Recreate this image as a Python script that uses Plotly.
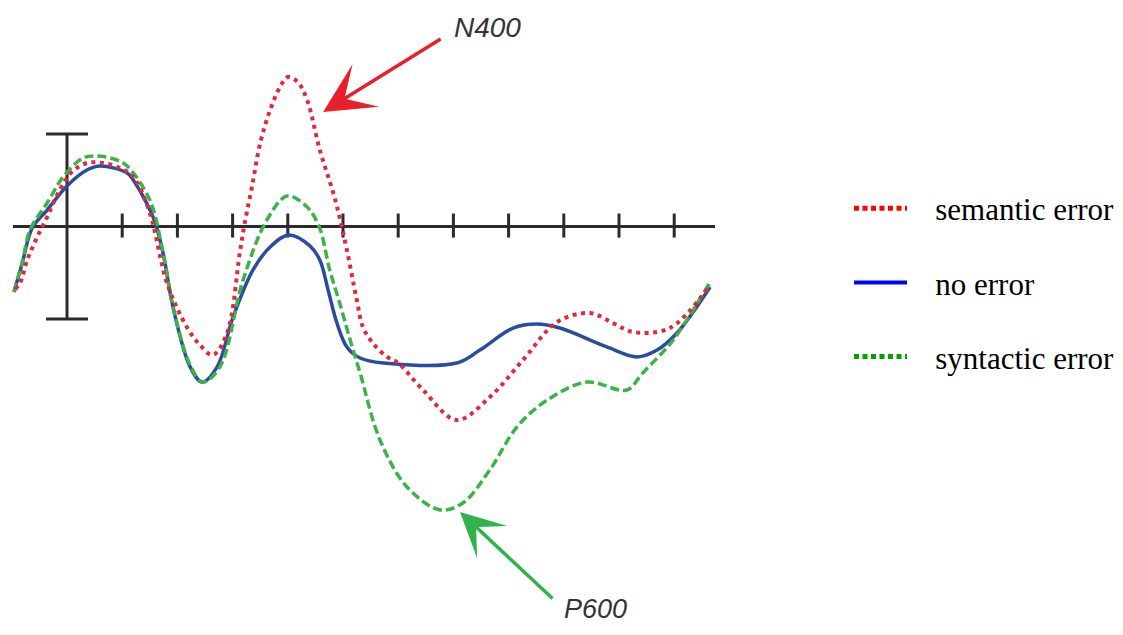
import plotly.graph_objects as go

# ---- data (time in ms, amplitude in microvolts; negative plotted upward) ----
no_error_t = [-96, -81, -63, -36, 0, 36, 60, 109, 120, 156, 174, 192, 223, 245, 272, 301, 337, 368,
              402, 440, 458, 473, 489, 507, 531, 573, 706, 748, 808, 851, 893, 978, 1033, 1069, 1105, 1165]
no_error_v = [3.54, 1.97, 0.08, -0.89, -2.19, -3.05, -3.27, -2.89, -2.51, -0.51, 1.43, 4.35, 7.59, 8.41,
              7.59, 4.89, 2.35, 1.11, 0.46, 1.05, 1.81, 3.43, 5.22, 6.51, 7.11, 7.38, 7.38, 6.68, 5.49,
              5.27, 5.49, 6.51, 7.05, 6.68, 5.76, 3.27]

semantic_t = [-94, -85, -72, -54, -36, -16, 9, 36, 65, 96, 120, 150, 181, 217, 241, 264, 290, 313, 322,
              335, 350, 368, 386, 400, 418, 435, 458, 486, 507, 525, 536, 554, 580, 600, 645, 706, 766,
              826, 888, 947, 989, 1025, 1092, 1165]
semantic_v = [3.38, 3.05, 1.81, 0.57, -0.51, -1.81, -2.95, -3.43, -3.43, -3.16, -2.68, -0.73, 3.05, 5.43,
              6.41, 6.95, 5.76, 1.43, -0.19, -2.14, -4.51, -6.3, -7.54, -8.08, -7.81, -6.84, -4.14, -1.43,
              1.27, 3.97, 5.43, 6.3, 7.05, 7.38, 8.84, 10.46, 9.22, 7.22, 5.16, 4.68, 5.22, 5.7, 5.49, 3.16]

syntactic_t = [-96, -81, -67, -36, -7, 29, 54, 91, 109, 150, 174, 192, 223, 246, 277, 319, 362, 399, 435,
               457, 476, 495, 513, 531, 567, 616, 676, 717, 766, 815, 870, 942, 1014, 1043, 1098, 1165]
syntactic_v = [3.54, 1.92, 0.19, -1.27, -2.68, -3.7, -3.81, -3.59, -3.27, -1.43, 1.43, 4.35, 7.49, 8.41,
               7.59, 2.89, -0.35, -1.65, -1.05, 0.03, 2.35, 4.24, 6.14, 7.92, 11.54, 14.08, 15.32, 14.95,
               13.16, 10.84, 9.38, 8.41, 8.84, 7.92, 6.14, 3.0]

tick_times = [100, 200, 300, 400, 500, 600, 700, 800, 900, 1000, 1100]
axis_start, axis_end = -98, 1174
tick_half_up, tick_half_down = -0.7, 0.6
calib_uv = 5
calib_cap = 38

legend_names = ["semantic error", "no error", "syntactic error"]

AX = "#2b2b2b"
FIG_W, FIG_H = 1106, 619          # keeps the page (with its 8px body margin) inside the window
PX_PER_MS, PX_PER_UV = 0.552, 18.5
T0, V0 = -106.88, -11.81

fig = go.Figure()

# baseline axis
fig.add_trace(go.Scatter(x=[axis_start, axis_end], y=[0, 0], mode="lines",
                         line=dict(color=AX, width=3), showlegend=False, hoverinfo="skip"))
# ticks
tx, ty = [], []
for t in tick_times:
    tx += [t, t, None]
    ty += [tick_half_up, tick_half_down, None]
fig.add_trace(go.Scatter(x=tx, y=ty, mode="lines", line=dict(color=AX, width=3),
                         showlegend=False, hoverinfo="skip"))
# calibration bar
fig.add_trace(go.Scatter(x=[0, 0, None, -calib_cap, calib_cap, None, -calib_cap, calib_cap],
                         y=[-calib_uv, calib_uv, None, -calib_uv, -calib_uv, None, calib_uv, calib_uv],
                         mode="lines", line=dict(color=AX, width=3), showlegend=False, hoverinfo="skip"))

# curves
fig.add_trace(go.Scatter(x=no_error_t, y=no_error_v, mode="lines",
                         line=dict(color="#2d4b9e", width=3.5, shape="spline", smoothing=1.0),
                         showlegend=False))
fig.add_trace(go.Scatter(x=syntactic_t, y=syntactic_v, mode="lines",
                         line=dict(color="#3cb24a", width=3.5, dash="9px,4px", shape="spline", smoothing=1.0),
                         showlegend=False))
fig.add_trace(go.Scatter(x=semantic_t, y=semantic_v, mode="lines",
                         line=dict(color="#e2283c", width=4, dash="4px,4.5px", shape="spline", smoothing=1.0),
                         showlegend=False))

# legend entries
leg_styles = [dict(color="#ff0000", width=5, dash="5px,3.5px"),
              dict(color="#0000ff", width=4),
              dict(color="#00a000", width=5, dash="5px,3.5px")]
pad = "\u00a0\u00a0\u00a0"
for i, (name, st) in enumerate(zip(legend_names, leg_styles)):
    fig.add_trace(go.Scatter(x=[None], y=[None], mode="lines", name=pad + name, line=st,
                             legendgroup=f"g{i}"))

# arrows and labels
fig.add_annotation(x=464, y=-6.19, ax=119, ay=-74, text="", showarrow=True,
                   arrowhead=3, arrowsize=2.4, arrowwidth=3.5, arrowcolor="#e8202a")
fig.add_annotation(x=712, y=15.43, ax=94, ay=88, text="", showarrow=True,
                   arrowhead=3, arrowsize=2.1, arrowwidth=3.5, arrowcolor="#2fb34a")
fig.add_annotation(x=761, y=-10.73, text="N400", showarrow=False,
                   font=dict(family="Liberation Sans", size=28, color="#333333", style="italic"))
fig.add_annotation(x=958, y=20.68, text="P600", showarrow=False,
                   font=dict(family="Liberation Sans", size=27, color="#333333", style="italic"))

fig.update_layout(
    width=FIG_W, height=FIG_H,
    margin=dict(l=0, r=0, t=0, b=0, autoexpand=False),
    paper_bgcolor="white", plot_bgcolor="white",
    xaxis=dict(range=[T0, T0 + FIG_W / PX_PER_MS], visible=False, fixedrange=True),
    yaxis=dict(range=[V0 + FIG_H / PX_PER_UV, V0], visible=False, fixedrange=True),
    showlegend=True,
    legend=dict(x=841 / FIG_W, y=1 - 173.7 / FIG_H, xanchor="left", yanchor="top",
                font=dict(family="Liberation Serif", size=31, color="black"),
                tracegroupgap=30.8, itemwidth=53, bgcolor="rgba(0,0,0,0)"),
)

fig.write_html("out.html")
